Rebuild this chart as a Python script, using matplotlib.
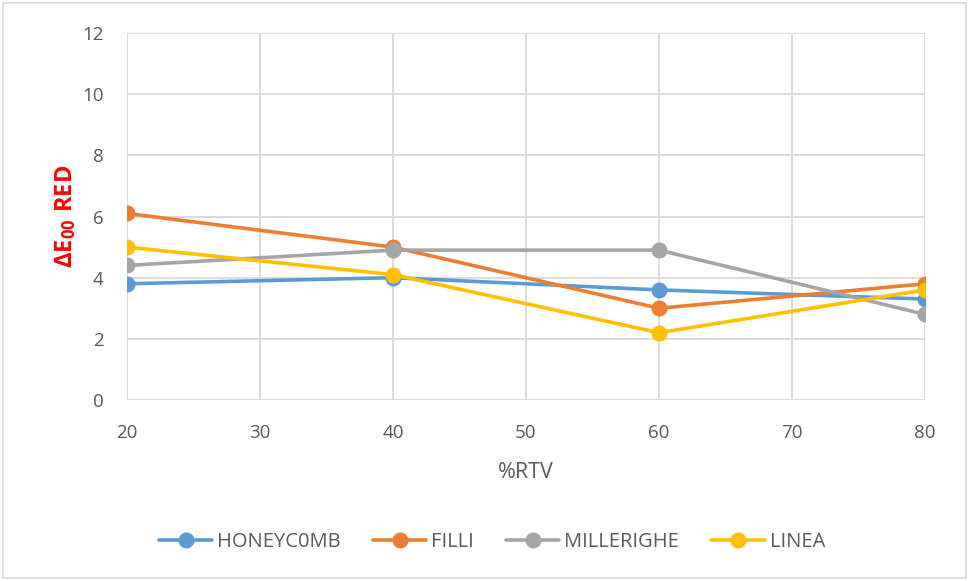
import matplotlib.pyplot as plt
from matplotlib.patches import Rectangle

# %RTV levels and colour difference per pattern
rtv = [20, 40, 60, 80]
honeycomb = [3.8, 4.0, 3.6, 3.3]
filli = [6.1, 5.0, 3.0, 3.8]
millerighe = [4.4, 4.9, 4.9, 2.8]
linea = [5.0, 4.1, 2.2, 3.6]

series = [
    ("HONEYC0MB", honeycomb, "#5B9BD5"),
    ("FILLI", filli, "#ED7D31"),
    ("MILLERIGHE", millerighe, "#A5A5A5"),
    ("LINEA", linea, "#FFC000"),
]

plt.rcParams['font.family'] = ['Open Sans', 'DejaVu Sans']
plt.rcParams['mathtext.fontset'] = 'custom'
plt.rcParams['mathtext.rm'] = 'Open Sans'
plt.rcParams['mathtext.bf'] = 'Open Sans:bold'

fig = plt.figure(figsize=(9.7, 5.81), dpi=100)
ax = fig.add_axes([127 / 970, 1 - 400 / 581, (925 - 127) / 970, (400 - 33) / 581])

for name, vals, col in series:
    ax.plot(rtv, vals, color=col, lw=2.6, marker='o', ms=10.5,
            label=name, solid_capstyle='round', zorder=3)

ax.set_xlim(20, 80)
ax.set_ylim(0, 12)
ax.set_xticks(range(20, 81, 10))
ax.set_yticks(range(0, 13, 2))
ax.grid(True, color='#D9D9D9', lw=1.3, zorder=0)
for s in ax.spines.values():
    s.set_visible(False)
ax.tick_params(length=0, labelsize=13.5, labelcolor='#595959')
ax.tick_params(axis='y', pad=17)
ax.tick_params(axis='x', pad=17)

ax.set_xlabel('%RTV', fontsize=15.5, color='#595959', labelpad=15)
ax.set_ylabel(r'$\mathbf{\Delta E_{00}\ RED}$', fontsize=17, color='#FF0000')
ax.yaxis.set_label_coords(-0.061, 0.5)

fig.legend(*ax.get_legend_handles_labels(), loc='center',
           bbox_to_anchor=(492 / 970, 1 - 542 / 581), ncol=4,
           frameon=False, fontsize=14.5, labelcolor='#595959',
           handlelength=2.64, columnspacing=1.6, handletextpad=0.25)

# light outer border around the chart
fig.patches.append(Rectangle((3 / 970, 3 / 581), 963 / 970, 575 / 581,
                             transform=fig.transFigure, fill=False,
                             edgecolor='#D9D9D9', lw=1.2))

fig.savefig('out.png', dpi=100)
